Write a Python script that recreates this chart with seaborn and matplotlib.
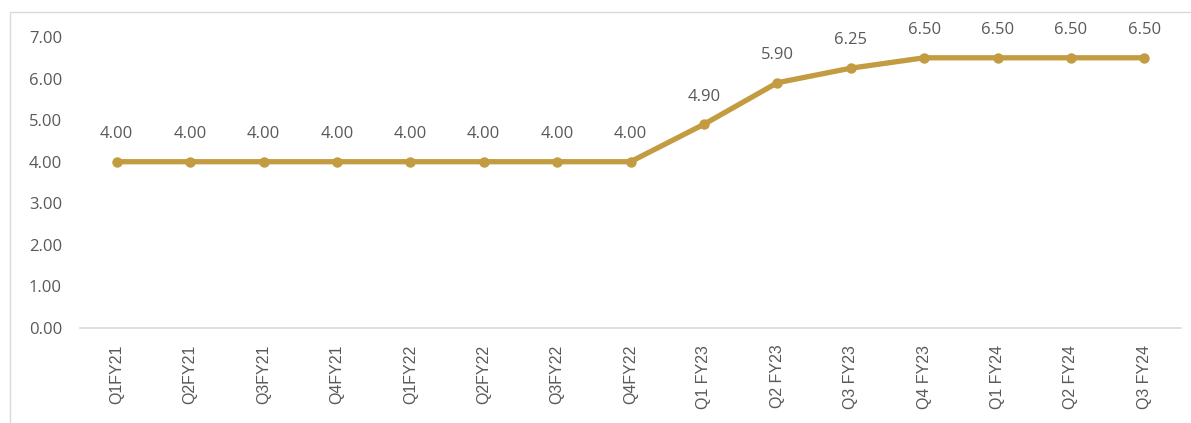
import seaborn as sns
import matplotlib.pyplot as plt
import pandas as pd
from matplotlib.patches import Rectangle

# Datos del gráfico
quarters = ['Q1FY21', 'Q2FY21', 'Q3FY21', 'Q4FY21', 'Q1FY22', 'Q2FY22', 'Q3FY22', 'Q4FY22',
            'Q1 FY23', 'Q2 FY23', 'Q3 FY23', 'Q4 FY23', 'Q1 FY24', 'Q2 FY24', 'Q3 FY24']
rates = [4.00, 4.00, 4.00, 4.00, 4.00, 4.00, 4.00, 4.00,
         4.90, 5.90, 6.25, 6.50, 6.50, 6.50, 6.50]
y_ticks = [0, 1, 2, 3, 4, 5, 6, 7]

df = pd.DataFrame({'quarter': quarters, 'rate': rates})
df['pos'] = range(len(df))

sns.set_style('white')
gold = '#C39B40'
grey = '#595959'

fig = plt.figure(figsize=(11.91, 4.23), dpi=100)
ax = fig.add_axes([0.0672, 0.2246, 0.9244, 0.6879])

# Marco exterior
fig.patches.append(Rectangle((10 / 1191, -0.1), 1.2, 1 - 12 / 423 + 0.1, transform=fig.transFigure,
                             fill=False, edgecolor='#D9D9D9', linewidth=1))

sns.lineplot(data=df, x='pos', y='rate', color=gold, linewidth=3.8, marker='o',
             markersize=7.5, markeredgewidth=0, ax=ax)

# Etiquetas de datos
for x, y in zip(df['pos'], df['rate']):
    ax.annotate(f'{y:.2f}', xy=(x, y), xytext=(0, 20), textcoords='offset points',
                ha='center', va='center', fontsize=12, color=grey, family='Open Sans')

ax.set_xlim(-0.5, len(quarters) - 0.5)
ax.set_ylim(0, 7)
ax.set_xticks(df['pos'])
ax.set_xticklabels(quarters, rotation=90, fontsize=11.5, color=grey, family='Liberation Sans')
ax.set_yticks(y_ticks)
ax.set_yticklabels([f'{t:.2f}' for t in y_ticks], fontsize=12, color=grey, family='Open Sans')
ax.tick_params(axis='x', length=0, pad=12)
ax.tick_params(axis='y', length=0, pad=13)
ax.set_xlabel('')
ax.set_ylabel('')

for side in ['top', 'right', 'left']:
    ax.spines[side].set_visible(False)
ax.spines['bottom'].set_color('#D9D9D9')
ax.spines['bottom'].set_linewidth(1.2)
ax.grid(False)

fig.savefig('out.png', dpi=100)
